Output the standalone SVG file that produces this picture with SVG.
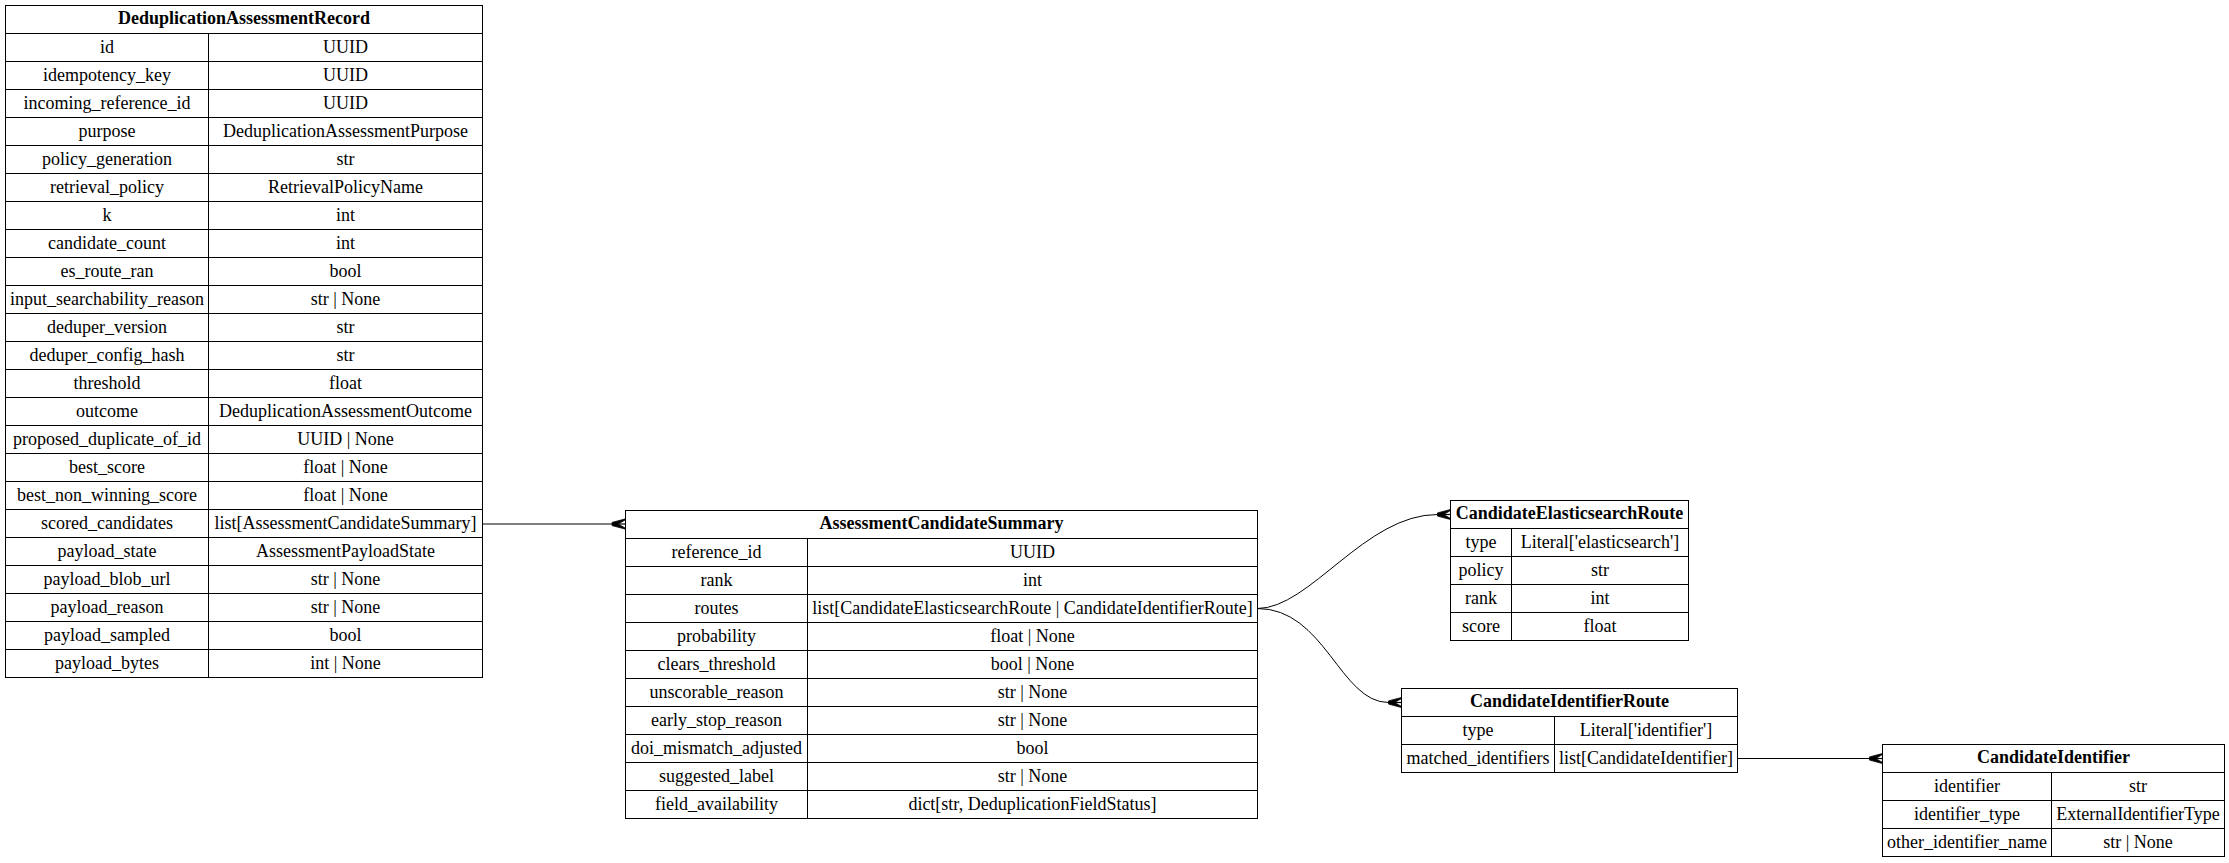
<svg xmlns="http://www.w3.org/2000/svg" width="2229" height="863" viewBox="0 0 2229 863">
<style>
.c{fill:#fff;stroke:#000;stroke-width:1}
.t{font-family:"Liberation Serif","Times New Roman",serif;font-size:18px;fill:#000;text-anchor:middle}
.h{font-weight:bold}
.e{fill:none;stroke:#000;stroke-width:1}
</style>
<defs>
<marker id="crow" markerUnits="userSpaceOnUse" markerWidth="20" markerHeight="20" refX="0" refY="0" orient="auto" overflow="visible" viewBox="-5 -10 20 20">
<polygon points="0,-1.6 13,-5 13,-3.9 6,0 13,3.9 13,5 0,1.6" fill="#000" stroke="#000" stroke-width="0.8"/>
<line x1="0" y1="0" x2="13" y2="0" stroke="#000" stroke-width="1.2"/>
</marker>
</defs>
<rect width="2229" height="863" fill="#fff"/>
<g id="connectors">
<path class="e" d="M482.5,524 L612,524" marker-end="url(#crow)"/>
<path class="e" d="M1257.5,608.5 C1310,608.5 1365,514.5 1437.5,514.5" marker-end="url(#crow)"/>
<path class="e" d="M1257.5,608.5 C1325,608.5 1340,702.5 1388.5,702.5" marker-end="url(#crow)"/>
<path class="e" d="M1737.5,758.5 L1869.5,758.5" marker-end="url(#crow)"/>
</g>
<g id="DeduplicationAssessmentRecord">
<rect class="c" x="5.5" y="5.5" width="477" height="28"/>
<text class="t h" x="244" y="24">DeduplicationAssessmentRecord</text>
<rect class="c" x="5.5" y="33.5" width="203" height="28"/><rect class="c" x="208.5" y="33.5" width="274" height="28"/>
<text class="t" x="107" y="52.8">id</text><text class="t" x="345.5" y="52.8">UUID</text>
<rect class="c" x="5.5" y="61.5" width="203" height="28"/><rect class="c" x="208.5" y="61.5" width="274" height="28"/>
<text class="t" x="107" y="80.8">idempotency_key</text><text class="t" x="345.5" y="80.8">UUID</text>
<rect class="c" x="5.5" y="89.5" width="203" height="28"/><rect class="c" x="208.5" y="89.5" width="274" height="28"/>
<text class="t" x="107" y="108.8">incoming_reference_id</text><text class="t" x="345.5" y="108.8">UUID</text>
<rect class="c" x="5.5" y="117.5" width="203" height="28"/><rect class="c" x="208.5" y="117.5" width="274" height="28"/>
<text class="t" x="107" y="136.8">purpose</text><text class="t" x="345.5" y="136.8">DeduplicationAssessmentPurpose</text>
<rect class="c" x="5.5" y="145.5" width="203" height="28"/><rect class="c" x="208.5" y="145.5" width="274" height="28"/>
<text class="t" x="107" y="164.8">policy_generation</text><text class="t" x="345.5" y="164.8">str</text>
<rect class="c" x="5.5" y="173.5" width="203" height="28"/><rect class="c" x="208.5" y="173.5" width="274" height="28"/>
<text class="t" x="107" y="192.8">retrieval_policy</text><text class="t" x="345.5" y="192.8">RetrievalPolicyName</text>
<rect class="c" x="5.5" y="201.5" width="203" height="28"/><rect class="c" x="208.5" y="201.5" width="274" height="28"/>
<text class="t" x="107" y="220.8">k</text><text class="t" x="345.5" y="220.8">int</text>
<rect class="c" x="5.5" y="229.5" width="203" height="28"/><rect class="c" x="208.5" y="229.5" width="274" height="28"/>
<text class="t" x="107" y="248.8">candidate_count</text><text class="t" x="345.5" y="248.8">int</text>
<rect class="c" x="5.5" y="257.5" width="203" height="28"/><rect class="c" x="208.5" y="257.5" width="274" height="28"/>
<text class="t" x="107" y="276.8">es_route_ran</text><text class="t" x="345.5" y="276.8">bool</text>
<rect class="c" x="5.5" y="285.5" width="203" height="28"/><rect class="c" x="208.5" y="285.5" width="274" height="28"/>
<text class="t" x="107" y="304.8">input_searchability_reason</text><text class="t" x="345.5" y="304.8">str | None</text>
<rect class="c" x="5.5" y="313.5" width="203" height="28"/><rect class="c" x="208.5" y="313.5" width="274" height="28"/>
<text class="t" x="107" y="332.8">deduper_version</text><text class="t" x="345.5" y="332.8">str</text>
<rect class="c" x="5.5" y="341.5" width="203" height="28"/><rect class="c" x="208.5" y="341.5" width="274" height="28"/>
<text class="t" x="107" y="360.8">deduper_config_hash</text><text class="t" x="345.5" y="360.8">str</text>
<rect class="c" x="5.5" y="369.5" width="203" height="28"/><rect class="c" x="208.5" y="369.5" width="274" height="28"/>
<text class="t" x="107" y="388.8">threshold</text><text class="t" x="345.5" y="388.8">float</text>
<rect class="c" x="5.5" y="397.5" width="203" height="28"/><rect class="c" x="208.5" y="397.5" width="274" height="28"/>
<text class="t" x="107" y="416.8">outcome</text><text class="t" x="345.5" y="416.8">DeduplicationAssessmentOutcome</text>
<rect class="c" x="5.5" y="425.5" width="203" height="28"/><rect class="c" x="208.5" y="425.5" width="274" height="28"/>
<text class="t" x="107" y="444.8">proposed_duplicate_of_id</text><text class="t" x="345.5" y="444.8">UUID | None</text>
<rect class="c" x="5.5" y="453.5" width="203" height="28"/><rect class="c" x="208.5" y="453.5" width="274" height="28"/>
<text class="t" x="107" y="472.8">best_score</text><text class="t" x="345.5" y="472.8">float | None</text>
<rect class="c" x="5.5" y="481.5" width="203" height="28"/><rect class="c" x="208.5" y="481.5" width="274" height="28"/>
<text class="t" x="107" y="500.8">best_non_winning_score</text><text class="t" x="345.5" y="500.8">float | None</text>
<rect class="c" x="5.5" y="509.5" width="203" height="28"/><rect class="c" x="208.5" y="509.5" width="274" height="28"/>
<text class="t" x="107" y="528.8">scored_candidates</text><text class="t" x="345.5" y="528.8">list[AssessmentCandidateSummary]</text>
<rect class="c" x="5.5" y="537.5" width="203" height="28"/><rect class="c" x="208.5" y="537.5" width="274" height="28"/>
<text class="t" x="107" y="556.8">payload_state</text><text class="t" x="345.5" y="556.8">AssessmentPayloadState</text>
<rect class="c" x="5.5" y="565.5" width="203" height="28"/><rect class="c" x="208.5" y="565.5" width="274" height="28"/>
<text class="t" x="107" y="584.8">payload_blob_url</text><text class="t" x="345.5" y="584.8">str | None</text>
<rect class="c" x="5.5" y="593.5" width="203" height="28"/><rect class="c" x="208.5" y="593.5" width="274" height="28"/>
<text class="t" x="107" y="612.8">payload_reason</text><text class="t" x="345.5" y="612.8">str | None</text>
<rect class="c" x="5.5" y="621.5" width="203" height="28"/><rect class="c" x="208.5" y="621.5" width="274" height="28"/>
<text class="t" x="107" y="640.8">payload_sampled</text><text class="t" x="345.5" y="640.8">bool</text>
<rect class="c" x="5.5" y="649.5" width="203" height="28"/><rect class="c" x="208.5" y="649.5" width="274" height="28"/>
<text class="t" x="107" y="668.8">payload_bytes</text><text class="t" x="345.5" y="668.8">int | None</text>
</g>
<g id="AssessmentCandidateSummary">
<rect class="c" x="625.5" y="510.5" width="632" height="28"/>
<text class="t h" x="941.5" y="529">AssessmentCandidateSummary</text>
<rect class="c" x="625.5" y="538.5" width="182" height="28"/><rect class="c" x="807.5" y="538.5" width="450" height="28"/>
<text class="t" x="716.5" y="557.8">reference_id</text><text class="t" x="1032.5" y="557.8">UUID</text>
<rect class="c" x="625.5" y="566.5" width="182" height="28"/><rect class="c" x="807.5" y="566.5" width="450" height="28"/>
<text class="t" x="716.5" y="585.8">rank</text><text class="t" x="1032.5" y="585.8">int</text>
<rect class="c" x="625.5" y="594.5" width="182" height="28"/><rect class="c" x="807.5" y="594.5" width="450" height="28"/>
<text class="t" x="716.5" y="613.8">routes</text><text class="t" x="1032.5" y="613.8">list[CandidateElasticsearchRoute | CandidateIdentifierRoute]</text>
<rect class="c" x="625.5" y="622.5" width="182" height="28"/><rect class="c" x="807.5" y="622.5" width="450" height="28"/>
<text class="t" x="716.5" y="641.8">probability</text><text class="t" x="1032.5" y="641.8">float | None</text>
<rect class="c" x="625.5" y="650.5" width="182" height="28"/><rect class="c" x="807.5" y="650.5" width="450" height="28"/>
<text class="t" x="716.5" y="669.8">clears_threshold</text><text class="t" x="1032.5" y="669.8">bool | None</text>
<rect class="c" x="625.5" y="678.5" width="182" height="28"/><rect class="c" x="807.5" y="678.5" width="450" height="28"/>
<text class="t" x="716.5" y="697.8">unscorable_reason</text><text class="t" x="1032.5" y="697.8">str | None</text>
<rect class="c" x="625.5" y="706.5" width="182" height="28"/><rect class="c" x="807.5" y="706.5" width="450" height="28"/>
<text class="t" x="716.5" y="725.8">early_stop_reason</text><text class="t" x="1032.5" y="725.8">str | None</text>
<rect class="c" x="625.5" y="734.5" width="182" height="28"/><rect class="c" x="807.5" y="734.5" width="450" height="28"/>
<text class="t" x="716.5" y="753.8">doi_mismatch_adjusted</text><text class="t" x="1032.5" y="753.8">bool</text>
<rect class="c" x="625.5" y="762.5" width="182" height="28"/><rect class="c" x="807.5" y="762.5" width="450" height="28"/>
<text class="t" x="716.5" y="781.8">suggested_label</text><text class="t" x="1032.5" y="781.8">str | None</text>
<rect class="c" x="625.5" y="790.5" width="182" height="28"/><rect class="c" x="807.5" y="790.5" width="450" height="28"/>
<text class="t" x="716.5" y="809.8">field_availability</text><text class="t" x="1032.5" y="809.8">dict[str, DeduplicationFieldStatus]</text>
</g>
<g id="CandidateElasticsearchRoute">
<rect class="c" x="1450.5" y="500.5" width="238" height="28"/>
<text class="t h" x="1569.5" y="519">CandidateElasticsearchRoute</text>
<rect class="c" x="1450.5" y="528.5" width="61" height="28"/><rect class="c" x="1511.5" y="528.5" width="177" height="28"/>
<text class="t" x="1481" y="547.8">type</text><text class="t" x="1600" y="547.8">Literal['elasticsearch']</text>
<rect class="c" x="1450.5" y="556.5" width="61" height="28"/><rect class="c" x="1511.5" y="556.5" width="177" height="28"/>
<text class="t" x="1481" y="575.8">policy</text><text class="t" x="1600" y="575.8">str</text>
<rect class="c" x="1450.5" y="584.5" width="61" height="28"/><rect class="c" x="1511.5" y="584.5" width="177" height="28"/>
<text class="t" x="1481" y="603.8">rank</text><text class="t" x="1600" y="603.8">int</text>
<rect class="c" x="1450.5" y="612.5" width="61" height="28"/><rect class="c" x="1511.5" y="612.5" width="177" height="28"/>
<text class="t" x="1481" y="631.8">score</text><text class="t" x="1600" y="631.8">float</text>
</g>
<g id="CandidateIdentifierRoute">
<rect class="c" x="1401.5" y="688.5" width="336" height="28"/>
<text class="t h" x="1569.5" y="707">CandidateIdentifierRoute</text>
<rect class="c" x="1401.5" y="716.5" width="153" height="28"/><rect class="c" x="1554.5" y="716.5" width="183" height="28"/>
<text class="t" x="1478" y="735.8">type</text><text class="t" x="1646" y="735.8">Literal['identifier']</text>
<rect class="c" x="1401.5" y="744.5" width="153" height="28"/><rect class="c" x="1554.5" y="744.5" width="183" height="28"/>
<text class="t" x="1478" y="763.8">matched_identifiers</text><text class="t" x="1646" y="763.8">list[CandidateIdentifier]</text>
</g>
<g id="CandidateIdentifier">
<rect class="c" x="1882.5" y="744.5" width="342" height="28"/>
<text class="t h" x="2053.5" y="763">CandidateIdentifier</text>
<rect class="c" x="1882.5" y="772.5" width="169" height="28"/><rect class="c" x="2051.5" y="772.5" width="173" height="28"/>
<text class="t" x="1967" y="791.8">identifier</text><text class="t" x="2138" y="791.8">str</text>
<rect class="c" x="1882.5" y="800.5" width="169" height="28"/><rect class="c" x="2051.5" y="800.5" width="173" height="28"/>
<text class="t" x="1967" y="819.8">identifier_type</text><text class="t" x="2138" y="819.8">ExternalIdentifierType</text>
<rect class="c" x="1882.5" y="828.5" width="169" height="28"/><rect class="c" x="2051.5" y="828.5" width="173" height="28"/>
<text class="t" x="1967" y="847.8">other_identifier_name</text><text class="t" x="2138" y="847.8">str | None</text>
</g>
</svg>
